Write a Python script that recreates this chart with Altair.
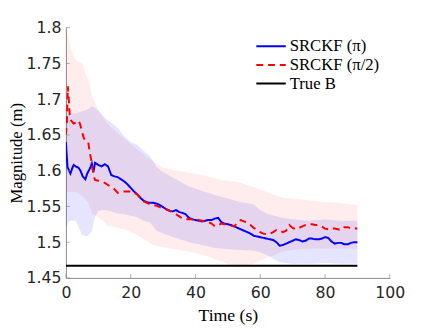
import altair as alt
import pandas as pd

# ---- series values ----
blue_t = [0, 0.2, 0.5, 1.0, 1.4, 2.0, 2.4, 3.0, 3.9, 4.5, 5.2, 6.0, 6.6, 7.5, 8.0, 8.5, 9.0,
          10, 11, 12, 13, 14, 15, 16, 17, 18, 19, 20, 21, 22, 23, 24, 25, 26, 27, 28, 29, 30,
          31, 32, 33, 34, 35, 36, 37, 38, 39, 40, 41, 42, 43, 44, 45, 46, 47, 48, 49, 50,
          51, 52, 53, 54, 55, 56, 57, 58, 59, 60, 61, 62, 63, 64, 65, 66, 67, 68, 69, 70,
          71, 72, 73, 74, 75, 76, 77, 78, 79, 80, 81, 82, 83, 84, 85, 86, 87, 88, 89, 90]
blue_v = [1.640, 1.625, 1.605, 1.600, 1.596, 1.604, 1.608, 1.606, 1.604, 1.600, 1.592, 1.588,
          1.596, 1.604, 1.610, 1.598, 1.611,
          1.608, 1.606, 1.609, 1.606, 1.594, 1.592, 1.591, 1.588, 1.585, 1.581, 1.576, 1.571,
          1.567, 1.562, 1.558, 1.556, 1.555, 1.555, 1.554, 1.552, 1.549,
          1.546, 1.544, 1.543, 1.545, 1.542, 1.541, 1.539, 1.534, 1.532, 1.531, 1.530, 1.529,
          1.530, 1.531, 1.531, 1.533, 1.534, 1.528, 1.526, 1.525,
          1.524, 1.522, 1.520, 1.518, 1.516, 1.514, 1.512, 1.509, 1.508, 1.507, 1.506, 1.505,
          1.504, 1.503, 1.500, 1.495, 1.496, 1.498, 1.500, 1.502,
          1.504, 1.503, 1.501, 1.502, 1.505, 1.505, 1.504, 1.504, 1.505, 1.507, 1.506, 1.501,
          1.498, 1.499, 1.499, 1.497, 1.497, 1.499, 1.500, 1.500]

red_t = [0, 0.3, 0.6, 0.9, 1.2, 1.6, 2.4, 3.4, 3.9, 4.4, 4.9, 5.5, 6.0, 6.9, 7.3, 8.0, 8.6, 9.0,
         10, 11, 12, 13, 14, 15, 16, 17, 18, 19, 20, 21, 22, 23, 24, 25, 26, 27, 28, 29, 30,
         31, 32, 33, 34, 35, 36, 37, 38, 39, 40, 41, 42, 43, 44, 45, 46, 47, 48, 49, 50,
         51, 52, 53, 54, 55, 56, 57, 58, 59, 60, 61, 62, 63, 64, 65, 66, 67, 68, 69, 70,
         71, 72, 73, 74, 75, 76, 77, 78, 79, 80, 81, 82, 83, 84, 85, 86, 87, 88, 89, 90]
red_v = [1.650, 1.668, 1.718, 1.700, 1.676, 1.670, 1.666, 1.668, 1.670, 1.665, 1.656, 1.646,
         1.642, 1.640, 1.628, 1.610, 1.592, 1.587,
         1.586, 1.585, 1.583, 1.580, 1.577, 1.574, 1.569, 1.570, 1.571, 1.571, 1.571, 1.569,
         1.567, 1.562, 1.557, 1.555, 1.553, 1.552, 1.551, 1.549, 1.547,
         1.546, 1.544, 1.541, 1.539, 1.536, 1.533, 1.532, 1.532, 1.532, 1.533, 1.531, 1.530,
         1.529, 1.528, 1.526, 1.522, 1.524, 1.526, 1.525, 1.524,
         1.523, 1.522, 1.528, 1.531, 1.529, 1.527, 1.524, 1.520, 1.517, 1.514, 1.512, 1.511,
         1.512, 1.514, 1.517, 1.516, 1.514, 1.516, 1.524, 1.520,
         1.518, 1.520, 1.522, 1.524, 1.525, 1.525, 1.524, 1.524, 1.522, 1.519, 1.518, 1.519,
         1.519, 1.518, 1.517, 1.521, 1.521, 1.519, 1.519, 1.519]

true_t = [0, 90]
true_v = [1.467, 1.467]

blue_band_t = [0, 1, 3, 5, 6.5, 8, 9, 10, 12, 14, 16, 18, 20, 22, 24, 26, 28, 30, 34, 38, 42,
               46, 50, 54, 58, 60, 62, 66, 70, 75, 80, 85, 90]
blue_band_hi = [1.680, 1.680, 1.680, 1.683, 1.685, 1.690, 1.688, 1.684, 1.674, 1.667, 1.660,
                1.648, 1.640, 1.636, 1.628, 1.620, 1.605, 1.598, 1.588, 1.578, 1.572, 1.566,
                1.561, 1.556, 1.553, 1.545, 1.540, 1.535, 1.532, 1.530, 1.532, 1.530, 1.530]
blue_band_lo = [1.520, 1.530, 1.530, 1.510, 1.508, 1.515, 1.535, 1.544, 1.545, 1.543, 1.540,
                1.539, 1.537, 1.535, 1.530, 1.527, 1.516, 1.512, 1.506, 1.500, 1.496, 1.492,
                1.490, 1.489, 1.488, 1.486, 1.482, 1.472, 1.470, 1.470, 1.471, 1.470, 1.470]

red_band_t = [0, 0.3, 1.5, 3, 5, 7, 8, 10, 13, 18, 22, 27, 30, 38, 44, 48, 53, 58, 62, 67, 72,
              78, 84, 90]
red_band_hi = [1.790, 1.800, 1.770, 1.755, 1.750, 1.725, 1.705, 1.685, 1.665, 1.645, 1.630,
               1.612, 1.604, 1.597, 1.592, 1.587, 1.584, 1.577, 1.570, 1.562, 1.560, 1.557,
               1.555, 1.552]
red_band_lo = [1.570, 1.570, 1.570, 1.570, 1.565, 1.555, 1.540, 1.535, 1.523, 1.518, 1.510,
               1.496, 1.493, 1.487, 1.480, 1.473, 1.465, 1.470, 1.478, 1.487, 1.490, 1.491,
               1.491, 1.491]

series_names = ["SRCKF (π)", "SRCKF (π/2)", "True B"]
series_colors = ["#0000ff", "#ff0000", "#000000"]
series_dash = [[1, 0], [7, 5], [1, 0]]

x_ticks = [0, 20, 40, 60, 80, 100]
y_ticks = [1.45, 1.5, 1.55, 1.6, 1.65, 1.7, 1.75, 1.8]

# ---- tables ----
lines = pd.concat([
    pd.DataFrame({"t": blue_t, "v": blue_v, "s": series_names[0], "o": 0}),
    pd.DataFrame({"t": red_t, "v": red_v, "s": series_names[1], "o": 1}),
    pd.DataFrame({"t": true_t, "v": true_v, "s": series_names[2], "o": 2}),
], ignore_index=True)
blue_band = pd.DataFrame({"t": blue_band_t, "hi": blue_band_hi, "lo": blue_band_lo})
red_band = pd.DataFrame({"t": red_band_t, "hi": red_band_hi, "lo": red_band_lo})
xt = pd.DataFrame({"t": x_ticks, "v": [1.45] * len(x_ticks)})
yt = pd.DataFrame({"t": [0] * len(y_ticks), "v": y_ticks})

xs = alt.Scale(domain=[0, 100], nice=False, zero=False)
ys = alt.Scale(domain=[1.45, 1.8], nice=False, zero=False)

x_axis = alt.Axis(values=x_ticks, format="d", title="Time (s)", ticks=False,
                  labelPadding=7, titlePadding=6, labelOverlap=False, labelFlush=False)
y_axis = alt.Axis(values=y_ticks, format="~g", title="Magnitude (m)", ticks=False,
                  labelPadding=5, titlePadding=1, labelOverlap=False, labelFlush=False,
                  titleFontSize=17)

band_red = alt.Chart(red_band).mark_area(color="#ff0000", opacity=0.07).encode(
    x=alt.X("t:Q", scale=xs, axis=x_axis),
    y=alt.Y("lo:Q", scale=ys, axis=y_axis),
    y2="hi:Q",
)
band_blue = alt.Chart(blue_band).mark_area(color="#0000ff", opacity=0.1).encode(
    x=alt.X("t:Q", scale=xs, axis=x_axis),
    y=alt.Y("lo:Q", scale=ys, axis=y_axis),
    y2="hi:Q",
)

leg = alt.Legend(title=None)
line = alt.Chart(lines).mark_line(strokeWidth=2, clip=True).encode(
    x=alt.X("t:Q", scale=xs, axis=x_axis),
    y=alt.Y("v:Q", scale=ys, axis=y_axis),
    color=alt.Color("s:N", scale=alt.Scale(domain=series_names, range=series_colors), legend=leg),
    strokeDash=alt.StrokeDash("s:N", scale=alt.Scale(domain=series_names, range=series_dash), legend=leg),
    order="o:Q",
)

xtick = alt.Chart(xt).mark_tick(orient="vertical", size=4, thickness=1, color="#8c8c8c", yOffset=-2).encode(
    x=alt.X("t:Q", scale=xs, axis=x_axis), y=alt.Y("v:Q", scale=ys, axis=y_axis))
ytick = alt.Chart(yt).mark_tick(orient="horizontal", size=4, thickness=1, color="#8c8c8c", xOffset=2).encode(
    x=alt.X("t:Q", scale=xs, axis=x_axis), y=alt.Y("v:Q", scale=ys, axis=y_axis))

chart = alt.layer(band_red, band_blue, line, xtick, ytick).properties(
    width=330, height=255,
    autosize=alt.AutoSizeParams(type="none"),
    padding={"left": 59, "top": 17, "right": 42, "bottom": 49},
).configure_view(stroke=None).configure_axis(
    grid=False, labelOverlap=False, labelFlush=False,
    domainColor="#8c8c8c", domainWidth=1,
    labelFont="DejaVu Sans", labelFontSize=16, labelColor="#262626",
    titleFont="Liberation Serif", titleFontSize=18, titleFontWeight="normal", titleColor="#000000",
).configure_axisY(labelOverlap=False).configure_legend(
    orient="none", legendX=193, legendY=11, padding=0,
    symbolType="stroke", symbolSize=900, symbolStrokeWidth=2, symbolOffset=0,
    labelFont="Liberation Serif", labelFontSize=17, labelColor="#000000", labelOffset=3,
    clipHeight=16, rowPadding=2,
)

chart.save("out.html", embed_options={"renderer": "svg", "actions": False})
